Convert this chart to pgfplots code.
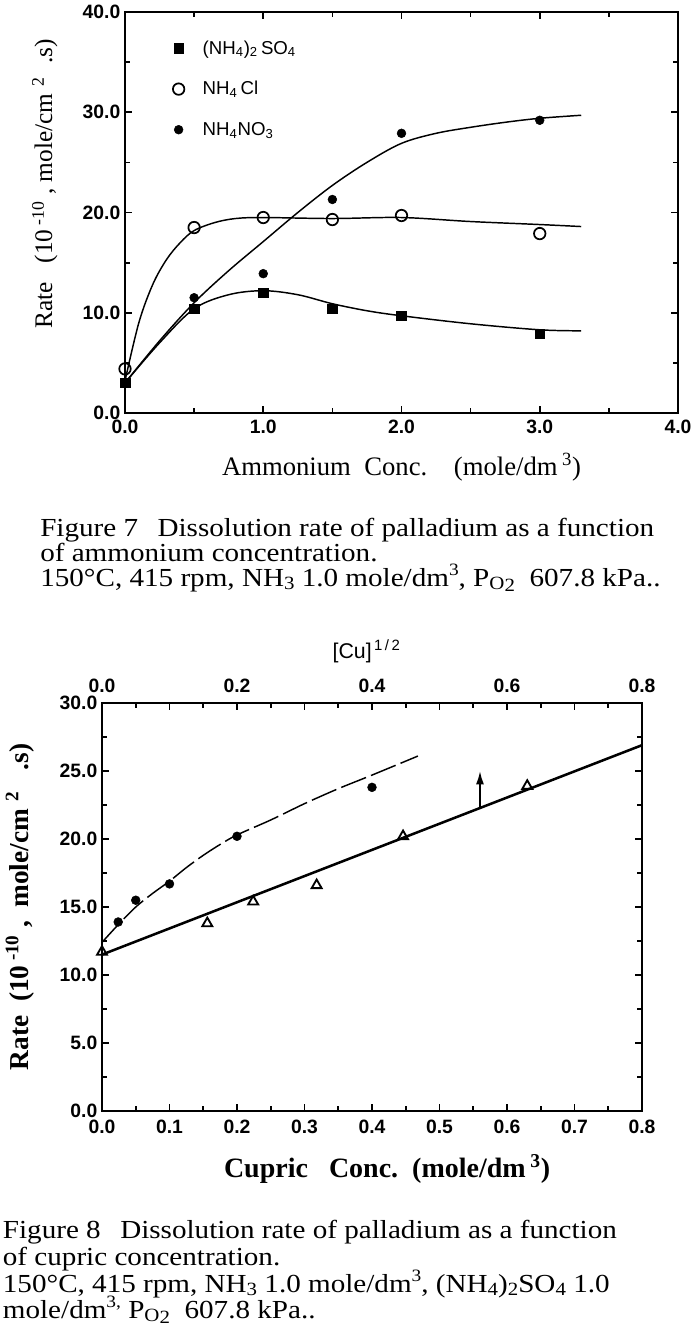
\documentclass[border=0pt]{standalone}
\usepackage{fontspec}
\setmainfont{Liberation Serif}
\setsansfont{Liberation Sans}
\newfontfamily\capfont[FakeStretch=1.12]{Liberation Serif}
\usepackage{pgfplots}
\pgfplotsset{compat=1.18}
\usetikzlibrary{arrows.meta}
\newcommand\tickfont{\sffamily\bfseries\fontsize{14.5}{14.5}\selectfont}
\newcommand\capsize{\capfont\fontsize{19.5}{20}\selectfont}
\newcommand\csub[1]{\raisebox{-0.12em}{\fontsize{14}{14}\selectfont #1}}
\newcommand\csup[1]{\raisebox{0.4em}{\fontsize{13}{13}\selectfont #1}}
\pgfplotsset{
  myaxis/.style={
    scale only axis, anchor=south west,
    tick align=inside, tick pos=both, ticklabel pos=left,
    axis line style={line width=1.8pt},
    every tick/.style={black, line width=1.3pt},
    major tick length=5pt, minor tick length=3.5pt,
    /pgf/number format/assume math mode=true,
    ticklabel style={font=\tickfont, /pgf/number format/fixed, /pgf/number format/fixed zerofill, /pgf/number format/precision=1},
  },
}
\begin{document}
\begin{tikzpicture}
\path[use as bounding box] (0pt,0pt) rectangle (521.25pt,-1007.25pt);

% ---------------- Figure 7 ----------------
\begin{axis}[myaxis,
  at={(93.75pt,-309.75pt)}, width=414.75pt, height=300.75pt,
  xmin=0, xmax=4, ymin=0, ymax=40,
  xtick={0,1,2,3,4}, minor x tick num=1,
  ytick={0,10,20,30,40}, minor y tick num=1,
  xticklabel style={yshift=-2pt},
  xlabel={Ammonium\ \ Conc.\ \ \ \ (mole/dm\,\textsuperscript{3})},
  xlabel style={font=\fontsize{20}{20}\selectfont, at={(axis description cs:0.5,-0.155)}, anchor=base},
  ylabel={Rate\ \ \ (10\,\textsuperscript{-10}\ ,\ mole/cm\,\textsuperscript{\,2}\ \ .s)},
  ylabel style={font=\fontsize{19}{19}\selectfont, at={(axis description cs:-0.145,0.571)}, anchor=center},
  legend style={draw=none, fill=none, at={(axis description cs:0.07,0.943)}, anchor=north west,
    font=\sffamily\fontsize{14}{14}\selectfont, row sep=15pt},
  legend cell align=left,
  legend image code/.code={\path[draw=none] (-8pt,0pt) -- (16pt,0pt); \draw[#1] plot coordinates {(0pt,0pt)};},
]
% fitted curves
\addplot[black, line width=1.1pt, smooth, tension=0.55, forget plot] coordinates {
 (0,3.0)(0.25,7.0)(0.5,10.4)(0.75,11.8)(1.0,12.2)(1.25,11.8)(1.5,10.9)(1.75,10.2)(2.0,9.7)(2.5,8.9)(3.0,8.3)(3.3,8.2)};
\addplot[black, line width=1.1pt, smooth, tension=0.55, forget plot] coordinates {
 (0,3.2)(0.1,9.0)(0.2,12.8)(0.3,15.3)(0.4,17.0)(0.5,18.2)(0.65,19.0)(0.8,19.4)(1.0,19.5)(1.5,19.4)(2.0,19.5)(2.5,19.1)(3.0,18.8)(3.3,18.6)};
\addplot[black, line width=1.1pt, smooth, tension=0.55, forget plot] coordinates {
 (0,3.0)(0.25,7.2)(0.5,11.0)(0.75,14.2)(1.0,17.1)(1.25,20.0)(1.5,22.7)(1.75,25.0)(2.0,26.9)(2.25,27.9)(2.5,28.5)(2.75,29.0)(3.0,29.4)(3.3,29.7)};
% data points
\addplot[only marks, mark=square*, mark size=3.6pt] coordinates {
 (0,3.0)(0.5,10.4)(1.0,12.0)(1.5,10.4)(2.0,9.7)(3.0,7.9)};
\addplot[only marks, mark=o, mark size=4.3pt, mark options={line width=1.3pt, fill=white}] coordinates {
 (0,4.4)(0.5,18.5)(1.0,19.5)(1.5,19.3)(2.0,19.7)(3.0,17.9)};
\addplot[only marks, mark=*, mark size=3.3pt] coordinates {
 (0.5,11.5)(1.0,13.9)(1.5,21.3)(2.0,27.9)(3.0,29.2)};
\addplot[only marks, mark=square*, mark size=3.6pt, forget plot] coordinates {(0,3.0)};
\legend{(NH\textsubscript{4})\textsubscript{2}\,SO\textsubscript{4}, NH\textsubscript{4}\,Cl, NH\textsubscript{4}NO\textsubscript{3}}
\end{axis}

\node[anchor=base west, inner sep=0pt, font=\capsize] at (30pt,-402pt) {Figure 7\hspace{0.75em}Dissolution rate of palladium as a function};
\node[anchor=base west, inner sep=0pt, font=\capsize] at (30pt,-421pt) {of ammonium concentration.};
\node[anchor=base west, inner sep=0pt, font=\capsize] at (30pt,-439.5pt) {150°C, 415 rpm, NH\csub{3} 1.0 mole/dm\csup{3}, P\csub{O\csub{2}}\ \ 607.8 kPa..};

% ---------------- Figure 8 ----------------
\begin{axis}[myaxis,
  at={(76.5pt,-833.25pt)}, width=405pt, height=306pt,
  xmin=0, xmax=0.8, ymin=0, ymax=30,
  xtick={0,0.1,0.2,0.3,0.4,0.5,0.6,0.7,0.8}, minor x tick num=1,
  ytick={0,5,10,15,20,25,30}, minor y tick num=1,
  xticklabel style={yshift=-3pt},
  xlabel={\bfseries Cupric\ \ \ Conc.\ \ (mole/dm\,\textsuperscript{3})},
  xlabel style={font=\fontsize{21}{21}\selectfont, at={(axis description cs:0.528,-0.164)}, anchor=base},
  ylabel={\bfseries Rate\ \ (10\,\textsuperscript{-10}\ ,\ \ mole/cm\,\textsuperscript{\,2}\ \ \ .s)},
  ylabel style={font=\fontsize{20.5}{20.5}\selectfont, at={(axis description cs:-0.152,0.5)}, anchor=center},
]
\addplot[black, line width=1.1pt, smooth, tension=0.5, dash pattern=on 20pt off 4pt] coordinates {
 (0,12.4)(0.024,13.7)(0.05,15.0)(0.075,16.0)(0.1,16.9)(0.125,17.9)(0.15,18.8)(0.175,19.6)(0.2,20.3)(0.25,21.4)(0.3,22.6)(0.35,23.7)(0.4,24.7)(0.468,26.1)};
\addplot[black, line width=1.9pt] coordinates {(0,11.5)(0.8,26.9)};
\addplot[black, line width=1.4pt, -{Latex[length=10pt,width=6pt]}] coordinates {(0.56,22.3)(0.56,25.0)};
\addplot[only marks, mark=*, mark size=3.3pt] coordinates {
 (0.024,13.9)(0.05,15.5)(0.10,16.7)(0.20,20.2)(0.40,23.8)};
\addplot[only marks, mark=triangle, mark size=4.3pt, mark options={line width=1.4pt, fill=white}] coordinates {
 (0,11.7)(0.156,13.8)(0.224,15.4)(0.318,16.6)(0.446,20.2)(0.630,23.9)};
\end{axis}
\begin{axis}[scale only axis, anchor=south west,
  at={(76.5pt,-833.25pt)}, width=405pt, height=306pt,
  xmin=0, xmax=0.8, ymin=0, ymax=30,
  axis x line*=top, axis y line=none, axis line style={draw=none},
  xtick={0,0.2,0.4,0.6,0.8}, major tick length=0pt,
  /pgf/number format/assume math mode=true,
  xticklabel style={font=\tickfont, yshift=4pt, /pgf/number format/fixed, /pgf/number format/fixed zerofill, /pgf/number format/precision=1},
  xlabel={[Cu]\textsuperscript{\,1\,/\,2}},
  xlabel style={font=\sffamily\fontsize{16}{16}\selectfont, at={(axis description cs:0.49,1.108)}, anchor=base},
]
\addplot[draw=none] coordinates {(0,0)(0.8,30)};
\end{axis}

\node[anchor=base west, inner sep=0pt, font=\capsize] at (2pt,-928.5pt) {Figure 8\hspace{0.75em}Dissolution rate of palladium as a function};
\node[anchor=base west, inner sep=0pt, font=\capsize] at (2pt,-948.75pt) {of cupric concentration.};
\node[anchor=base west, inner sep=0pt, font=\capsize] at (2pt,-969pt) {150°C, 415 rpm, NH\csub{3} 1.0 mole/dm\csup{3}, (NH\csub{4})\csub{2}SO\csub{4} 1.0};
\node[anchor=base west, inner sep=0pt, font=\capsize] at (2pt,-988.5pt) {mole/dm\csup{3,} P\csub{O\csub{2}}\ \ 607.8 kPa..};
\end{tikzpicture}
\end{document}
